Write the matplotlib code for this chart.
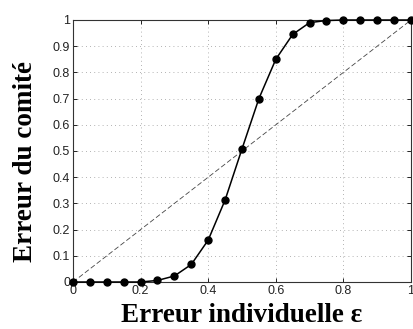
import matplotlib
matplotlib.use("Agg")
import matplotlib.pyplot as plt

x_vals = [0.00, 0.05, 0.10, 0.15, 0.20, 0.25, 0.30, 0.35, 0.40, 0.45, 0.50,
          0.55, 0.60, 0.65, 0.70, 0.75, 0.80, 0.85, 0.90, 0.95, 1.00]
committee_err = [0.0, 0.0, 0.0, 0.0, 0.0, 0.006, 0.023, 0.067, 0.16, 0.313, 0.508,
                 0.70, 0.85, 0.945, 0.99, 0.998, 1.0, 1.0, 1.0, 1.0, 1.0]
diag = [0.0, 1.0]
xticks = [0, 0.2, 0.4, 0.6, 0.8, 1]
xticklabels = ["0", "0.2", "0.4", "0.6", "0.8", "1"]
yticks = [0, 0.1, 0.2, 0.3, 0.4, 0.5, 0.6, 0.7, 0.8, 0.9, 1]
yticklabels = ["0", "0.1", "0.2", "0.3", "0.4", "0.5", "0.6", "0.7", "0.8", "0.9", "1"]

fig = plt.figure(figsize=(4.14, 3.29), dpi=100)
ax = fig.add_axes([73/414, 1-282/329, 338/414, 262/329])

ax.plot(diag, diag, linestyle=(0, (6, 3)), color="#444444", linewidth=0.6)
ax.plot(x_vals, committee_err, color="black", linewidth=1.1, marker="o",
        markersize=5, markerfacecolor="black", markeredgecolor="black", clip_on=False, zorder=3)

ax.set_xlim(0, 1)
ax.set_ylim(0, 1)
ax.set_xticks(xticks)
ax.set_xticklabels(xticklabels)
ax.set_yticks(yticks)
ax.set_yticklabels(yticklabels)
ax.grid(True, linestyle=(0, (1, 4)), color="#999999", linewidth=0.6)
ax.tick_params(direction="in", length=3, width=0.6, top=True, right=True,
               labelsize=9, pad=2)
for lab in ax.get_xticklabels() + ax.get_yticklabels():
    lab.set_family("Liberation Sans")
    lab.set_color("#222222")
for s in ax.spines.values():
    s.set_linewidth(0.8)
    s.set_color("#333333")

ax.set_xlabel("Erreur individuelle ε", fontsize=19.5, fontweight="bold",
              family="Liberation Serif", labelpad=4.5)
ax.set_ylabel("Erreur du comité", fontsize=19.5, fontweight="bold",
              family="Liberation Serif")
ax.yaxis.set_label_coords(-0.105, 0.46)

fig.savefig("out.png", dpi=100)
